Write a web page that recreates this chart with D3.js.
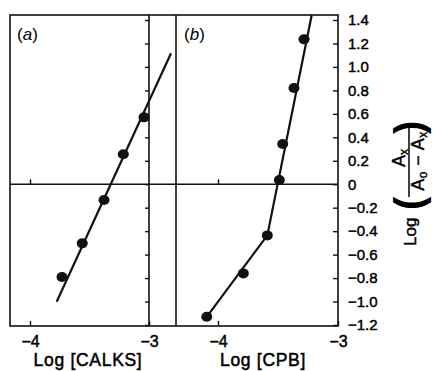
<!DOCTYPE html>
<html><head><meta charset="utf-8">
<script src="https://cdn.jsdelivr.net/npm/d3@7"></script>
<style>
html,body{margin:0;padding:0;background:#fff;}
svg text{font-family:"Liberation Sans",Arial,Helvetica,sans-serif;fill:#000;}
</style></head>
<body>
<svg id="chart" width="433" height="371"></svg>
<script>
// ---- data ----
const yTickValues = [1.4, 1.2, 1.0, 0.8, 0.6, 0.4, 0.2, 0, -0.2, -0.4, -0.6, -0.8, -1.0, -1.2];
const yTickLabels = ["1.4","1.2","1.0","0.8","0.6","0.4","0.2","0","\u22120.2","\u22120.4","\u22120.6","\u22120.8","\u22121.0","\u22121.2"];
const xTickValues = [-4, -3];
const xTickLabels = ["\u22124", "\u22123"];
const panelLabels = ["a", "b"];
const xTitles = ["Log [CALKS]", "Log [CPB]"];

// panel (a): log[CALKS] vs log(Ax/(Ao-Ax))
const calksX = [-3.731, -3.561, -3.378, -3.216, -3.042];
const calksY = [-0.791, -0.504, -0.135, 0.255, 0.570];
const calksLineX = [-3.776, -2.815];
const calksLineY = [-1.002, 1.116];

// panel (b): log[CPB] vs log(Ax/(Ao-Ax))
const cpbX = [-4.094, -3.789, -3.589, -3.489, -3.461, -3.367, -3.283];
const cpbY = [-1.130, -0.760, -0.436, 0.036, 0.343, 0.820, 1.235];
const cpbLineX = [-4.094, -3.589, -3.219];
const cpbLineY = [-1.130, -0.436, 1.443];

// ---- layout ----
const svg = d3.select("#chart");
const topY = 15, bottomY = 326;
const aLeft = 10, aRight = 176, bRight = 338;

const y = d3.scaleLinear().domain([-1.2, 1.4]).range([325, 20]);
const xA = d3.scaleLinear().domain([-4, -3]).range([30, 149]);
const xB = d3.scaleLinear().domain([-4, -3]).range([218, 338]);

const ink = "#111";
const frame = svg.append("g").attr("stroke", ink).attr("fill", "none");
frame.append("rect").attr("x", aLeft).attr("y", topY).attr("width", bRight - aLeft).attr("height", bottomY - topY).attr("stroke-width", 1.6);
frame.append("line").attr("x1", aRight).attr("x2", aRight).attr("y1", topY).attr("y2", bottomY).attr("stroke-width", 1.6);
frame.append("line").attr("x1", xA(-3)).attr("x2", xA(-3)).attr("y1", topY).attr("y2", bottomY).attr("stroke-width", 1.6);
frame.append("line").attr("x1", aLeft).attr("x2", bRight).attr("y1", y(0)).attr("y2", y(0)).attr("stroke-width", 1.6);

function styleAxis(g){
  g.select(".domain").remove();
  g.selectAll(".tick line").attr("stroke", ink).attr("stroke-width", 1.4);
  g.selectAll(".tick text").attr("font-family", "Liberation Sans, Arial, sans-serif")
    .attr("fill", "#000").attr("stroke", "#000").attr("stroke-width", 0.45);
}

const labelOf = v => yTickLabels[yTickValues.indexOf(v)];
svg.append("g").attr("transform", `translate(${bRight},0)`)
  .call(d3.axisRight(y).tickValues(yTickValues).tickFormat(labelOf).tickSizeInner(-5).tickSizeOuter(0).tickPadding(10))
  .call(styleAxis)
  .call(g => g.selectAll(".tick text").attr("font-size", 15));

svg.append("g").attr("transform", `translate(${xA(-3)},0)`)
  .call(d3.axisLeft(y).tickValues(yTickValues).tickFormat("").tickSizeInner(4).tickSizeOuter(0))
  .call(styleAxis);

const xLabelOf = v => xTickLabels[xTickValues.indexOf(v)];
[xA, xB].forEach((sc, i) => {
  svg.append("g").attr("transform", `translate(0,${bottomY})`)
    .call(d3.axisBottom(sc).tickValues(xTickValues).tickFormat(xLabelOf).tickSizeInner(-5).tickSizeOuter(0).tickPadding(10))
    .call(styleAxis)
    .call(g => g.selectAll(".tick text").attr("font-size", 16));
  svg.append("g").attr("transform", `translate(0,${y(0)})`)
    .call(d3.axisBottom(sc).tickValues([xTickValues[0]]).tickFormat("").tickSizeInner(-5).tickSizeOuter(0))
    .call(styleAxis);
  svg.append("text").attr("x", (i === 0 ? 88 : 263)).attr("y", 366)
    .attr("text-anchor", "middle").attr("font-size", 17.5).attr("letter-spacing", 0.7)
    .attr("stroke", "#000").attr("stroke-width", 0.5)
    .text(xTitles[i]);
  const pl = svg.append("text").attr("x", i === 0 ? 17 : 184).attr("y", 40).attr("font-size", 17);
  pl.append("tspan").text("(");
  pl.append("tspan").attr("font-style", "italic").text(panelLabels[i]);
  pl.append("tspan").text(")");
});

const lineA = d3.line().x(d => xA(d[0])).y(d => y(d[1]));
const lineB = d3.line().x(d => xB(d[0])).y(d => y(d[1]));
svg.append("path").datum(d3.zip(calksLineX, calksLineY)).attr("d", lineA)
  .attr("fill", "none").attr("stroke", ink).attr("stroke-width", 2.2);
svg.append("path").datum(d3.zip(cpbLineX, cpbLineY)).attr("d", lineB)
  .attr("fill", "none").attr("stroke", ink).attr("stroke-width", 2.2);

svg.append("g").selectAll("ellipse").data(d3.zip(calksX, calksY)).join("ellipse")
  .attr("cx", d => xA(d[0])).attr("cy", d => y(d[1])).attr("rx", 5.5).attr("ry", 5).attr("fill", ink);
svg.append("g").selectAll("ellipse").data(d3.zip(cpbX, cpbY)).join("ellipse")
  .attr("cx", d => xB(d[0])).attr("cy", d => y(d[1])).attr("rx", 5.5).attr("ry", 5).attr("fill", ink);

// y-axis title (rotated): Log ( Ax / (Ao − Ax) )
const t = svg.append("g").attr("transform", "rotate(-90)");
t.append("text").attr("x", -246).attr("y", 416).attr("font-size", 17)
  .attr("stroke", "#000").attr("stroke-width", 0.45).text("Log");
t.append("text").attr("x", -210).attr("y", 423).attr("font-size", 40).attr("font-weight", "bold").text("(");
t.append("text").attr("x", -134).attr("y", 423).attr("font-size", 40).attr("font-weight", "bold").text(")");
const num = t.append("text").attr("x", -158).attr("y", 405).attr("font-size", 18).attr("text-anchor", "middle")
  .attr("stroke", "#000").attr("stroke-width", 0.4);
num.append("tspan").text("A");
num.append("tspan").attr("font-size", 12).attr("dy", 3).text("x");
t.append("line").attr("x1", -197).attr("x2", -127).attr("y1", 409).attr("y2", 409).attr("stroke", ink).attr("stroke-width", 1.6);
const den = t.append("text").attr("x", -161).attr("y", 424).attr("font-size", 18).attr("text-anchor", "middle")
  .attr("letter-spacing", 0.5).attr("stroke", "#000").attr("stroke-width", 0.4);
den.append("tspan").text("A");
den.append("tspan").attr("font-size", 12).attr("dy", 3).text("o");
den.append("tspan").attr("dy", -3).text(" \u2212 A");
den.append("tspan").attr("font-size", 12).attr("dy", 3).text("x");
</script>
</body></html>
